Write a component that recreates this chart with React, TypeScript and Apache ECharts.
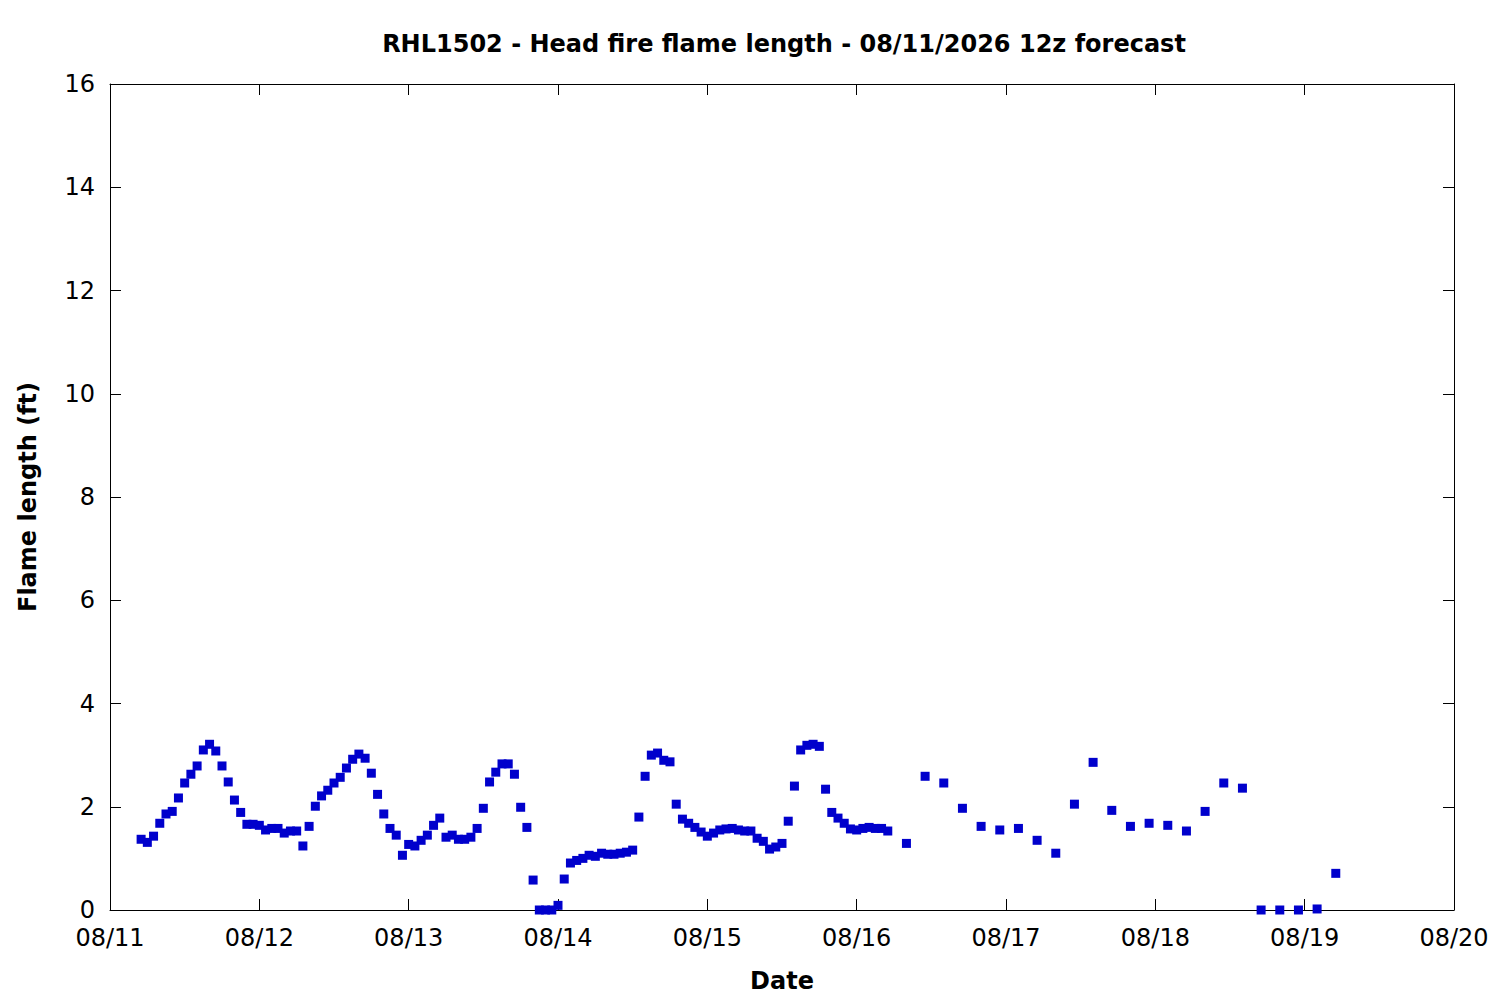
import React, { useEffect, useRef } from "react";
import * as echarts from "echarts";

// Tick labels for the date axis (one per day, hours since 08/11 00:00)
const dayLabels = ["08/11", "08/12", "08/13", "08/14", "08/15", "08/16", "08/17", "08/18", "08/19", "08/20"];

// Hourly forecast: starts 08/11 05:00 (hour 5)
const hourlyStartHour = 5;
const hourlyValues = [
  1.37, 1.31, 1.43, 1.68, 1.86, 1.91, 2.17, 2.46, 2.63, 2.79,
  3.10, 3.21, 3.08, 2.79, 2.48, 2.13, 1.89, 1.66, 1.66, 1.64,
  1.55, 1.58, 1.58, 1.49, 1.53, 1.53, 1.24, 1.62, 2.01, 2.21,
  2.32, 2.46, 2.57, 2.75, 2.92, 3.02, 2.94, 2.65, 2.24, 1.86,
  1.58, 1.45, 1.06, 1.27, 1.24, 1.35, 1.45, 1.64, 1.78, 1.41,
  1.45, 1.37, 1.37, 1.41, 1.58, 1.97, 2.48, 2.67, 2.83, 2.83,
  2.63, 1.99, 1.60, 0.58, 0, 0, 0, 0.09, 0.60, 0.91,
  0.96, 1.00, 1.06, 1.04, 1.10, 1.08, 1.08, 1.10, 1.12, 1.16,
  1.80, 2.59, 3.00, 3.04, 2.90, 2.87, 2.05, 1.76, 1.68, 1.60,
  1.51, 1.43, 1.49, 1.55, 1.57, 1.58, 1.55, 1.53, 1.53, 1.39,
  1.33, 1.18, 1.22, 1.29, 1.72, 2.40, 3.10, 3.19, 3.21, 3.17,
  2.34, 1.89, 1.78, 1.68, 1.57, 1.55, 1.58, 1.60, 1.58, 1.58,
  1.53,
];

// 3-hourly forecast: starts 08/16 08:00 (hour 128)
const threeHourStartHour = 128;
const threeHourValues = [
  1.29, 2.59, 2.46, 1.97, 1.62, 1.55, 1.58, 1.35, 1.10, 2.05,
  2.86, 1.93, 1.62, 1.68, 1.64, 1.53, 1.91, 2.46, 2.36, 0,
  0, 0, 0.02, 0.71,
];

const yTicks = { min: 0, max: 16, interval: 2 };

export default function App() {
  const ref = useRef<HTMLDivElement>(null);

  useEffect(() => {
    document.body.style.margin = "0";
    if (!ref.current) return;
    const chart = echarts.init(ref.current, undefined, { renderer: "svg" });

    const points: [number, number][] = [];
    hourlyValues.forEach((v, i) => points.push([hourlyStartHour + i, v]));
    threeHourValues.forEach((v, i) => points.push([threeHourStartHour + i * 3, v]));

    const font = "DejaVu Sans";
    const axisCommon = {
      axisLine: { show: true, onZero: false, lineStyle: { color: "#000", width: 1 } },
      axisTick: { show: true, inside: true, length: 11, lineStyle: { color: "#000", width: 1 } },
      splitLine: { show: false },
    };

    chart.setOption({
      animation: false,
      backgroundColor: "#fff",
      textStyle: { fontFamily: font },
      title: {
        text: "RHL1502 - Head fire flame length - 08/11/2026 12z forecast",
        left: 779,
        top: 27,
        textAlign: "center",
        textStyle: { fontFamily: font, fontSize: 24, fontWeight: "bold", color: "#000" },
      },
      grid: { left: 110, top: 84, right: 46, bottom: 90, containLabel: false },
      xAxis: [
        {
          type: "value",
          min: 0,
          max: 216,
          interval: 24,
          ...axisCommon,
          axisLabel: {
            fontFamily: font,
            fontSize: 24,
            color: "#000",
            margin: 16,
            formatter: (v: number) => dayLabels[Math.round(v / 24)] ?? "",
          },
          name: "Date",
          nameLocation: "middle",
          nameGap: 59,
          nameTextStyle: { fontFamily: font, fontSize: 24, fontWeight: "bold", color: "#000" },
        },
        {
          type: "value",
          position: "top",
          min: 0,
          max: 216,
          interval: 24,
          ...axisCommon,
          axisLabel: { show: false },
        },
      ],
      yAxis: [
        {
          type: "value",
          ...yTicks,
          ...axisCommon,
          axisLabel: { fontFamily: font, fontSize: 24, color: "#000", margin: 15 },
          name: "Flame length (ft)",
          nameLocation: "middle",
          nameRotate: 90,
          nameGap: 70,
          nameTextStyle: { fontFamily: font, fontSize: 24, fontWeight: "bold", color: "#000" },
        },
        {
          type: "value",
          position: "right",
          ...yTicks,
          ...axisCommon,
          axisLabel: { show: false },
        },
      ],
      series: [
        {
          type: "scatter",
          xAxisIndex: 0,
          yAxisIndex: 0,
          data: points,
          symbol: "rect",
          symbolSize: 9,
          clip: false,
          itemStyle: { color: "#0000cc", opacity: 1 },
        },
      ],
    });

    return () => chart.dispose();
  }, []);

  return <div ref={ref} style={{ width: 1500, height: 1000 }} />;
}
